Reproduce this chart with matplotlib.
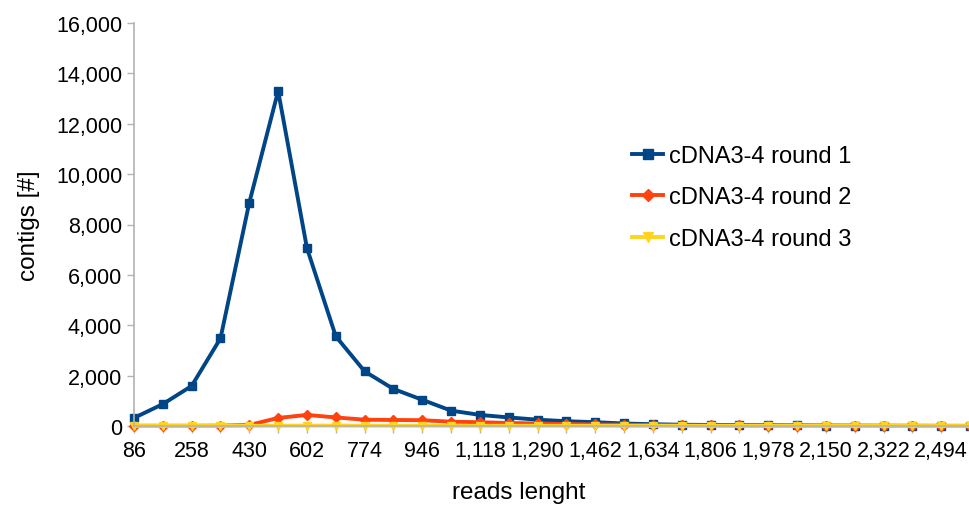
import matplotlib.pyplot as plt
from matplotlib.ticker import FuncFormatter

plt.rcParams['font.family'] = ['Liberation Sans', 'DejaVu Sans']

# read length bins (bp)
lengths = [86 * (i + 1) for i in range(30)]

round1 = [320, 870, 1590, 3480, 8870, 13300, 7060, 3560, 2170, 1470,
          1040, 610, 440, 340, 250, 190, 150, 100, 70, 50,
          40, 30, 25, 20, 15, 12, 10, 8, 6, 5]
round2 = [10, 10, 10, 15, 40, 320, 440, 340, 250, 240,
          230, 170, 150, 120, 100, 80, 60, 50, 40, 30,
          25, 20, 15, 12, 10, 8, 6, 5, 4, 3]
round3 = [5, 5, 5, 5, 5, 10, 15, 15, 12, 12,
          12, 10, 10, 10, 8, 8, 6, 6, 5, 5,
          4, 4, 3, 3, 2, 2, 2, 1, 1, 1]

labels = ["cDNA3-4 round 1", "cDNA3-4 round 2", "cDNA3-4 round 3"]
colors = ["#004586", "#ff420e", "#ffd320"]
markers = ["s", "D", "v"]


def main():
    fig = plt.figure(figsize=(9.7, 5.1), dpi=100)
    ax = fig.add_axes([134 / 970, 1 - 427 / 510, 836 / 970, 403 / 510])

    idx = list(range(len(lengths)))
    for series, lab, c, m in zip([round1, round2, round3], labels, colors, markers):
        ms = 6 if m == "s" else 5.5
        ax.plot(idx, series, color=c, marker=m, markersize=ms, linewidth=2.8,
                label=lab, clip_on=False)

    ax.set_xlim(0, 28.9)
    ax.set_ylim(0, 16000)
    ax.set_yticks(range(0, 16001, 2000))
    ax.yaxis.set_major_formatter(FuncFormatter(lambda v, p: f"{int(v):,}"))
    ax.set_xticks(idx)
    ax.set_xticklabels([f"{v:,}" if i % 2 == 0 else "" for i, v in enumerate(lengths)])

    for side in ["top", "right"]:
        ax.spines[side].set_visible(False)
    for side in ["left", "bottom"]:
        ax.spines[side].set_color("#b3b3b3")
        ax.spines[side].set_linewidth(1.2)
    ax.tick_params(axis="both", colors="#b3b3b3", labelcolor="black",
                   labelsize=15.5, length=5, width=1)
    ax.tick_params(axis="x", pad=5)

    ax.set_ylabel("contigs [#]", fontsize=17.5)
    ax.yaxis.set_label_coords(-0.112, 0.5)
    ax.set_xlabel("reads lenght", fontsize=17.5)
    ax.xaxis.set_label_coords(0.46, -0.137)

    ax.legend(loc="upper left", bbox_to_anchor=(0.596, 0.697), frameon=False,
              fontsize=17, labelspacing=0.82, handlelength=1.3,
              handletextpad=0.25, borderpad=0, borderaxespad=0,
              markerscale=1.2)

    fig.savefig("out.png", dpi=100)


if __name__ == "__main__":
    main()
